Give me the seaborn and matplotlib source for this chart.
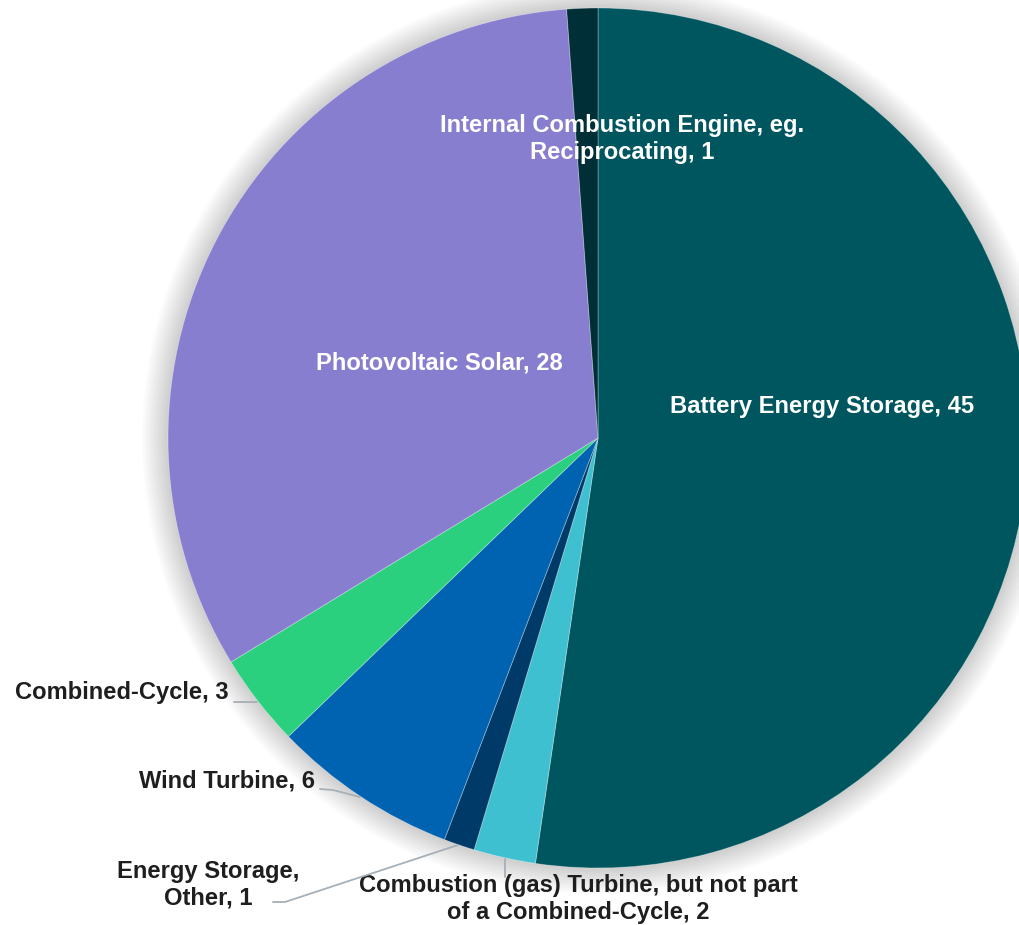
import matplotlib
matplotlib.use("Agg")
import matplotlib.pyplot as plt
import seaborn as sns
from matplotlib.patches import Circle

# Data
categories = [
    "Battery Energy Storage",
    "Combustion (gas) Turbine, but not part\nof a Combined-Cycle",
    "Energy Storage,\nOther",
    "Wind Turbine",
    "Combined-Cycle",
    "Photovoltaic Solar",
    "Internal Combustion Engine, eg.\nReciprocating",
]
counts = [45, 2, 1, 6, 3, 28, 1]
colors = ["#00565F", "#3EC0D0", "#003A68", "#0063B1", "#2BD07F", "#877ED0", "#002F38"]

sns.set_theme(style="white")
plt.rcParams["font.family"] = ["Liberation Sans", "DejaVu Sans"]

W, H = 1019, 925
CX, CY, R = 598, 438, 430


def px(x, y):
    # pixel position -> data coords (pie radius = 1)
    return (x - CX) / R, (CY - y) / R


fig = plt.figure(figsize=(W / 100, H / 100), dpi=100)
ax = fig.add_axes([0, 0, 1, 1])

# soft shadow around the pie
for i in range(12):
    ax.add_patch(Circle((0, 0), 1 + 0.005 * (i + 1), color="#000000",
                        alpha=0.014, lw=0, zorder=0))

wedges, _ = ax.pie(counts, colors=colors, startangle=90, counterclock=False,
                   radius=1, center=(0, 0), frame=True,
                   wedgeprops=dict(linewidth=0.6, edgecolor=(1, 1, 1, 0.35)))
ax.set_xlim(-CX / R, (W - CX) / R)
ax.set_ylim(-(H - CY) / R, CY / R)
ax.set_aspect("equal")
ax.axis("off")

fs = 17.1
ls = 1.17
dark = "#1E1E1E"
line_c = "#A7AFB7"

# inside labels
ax.text(*px(822, 407), f"{categories[0]}, {counts[0]}", color="white",
        fontsize=fs, fontweight="bold", ha="center", va="center")
ax.text(*px(439, 363), f"{categories[5]}, {counts[5]}", color="white",
        fontsize=fs, fontweight="bold", ha="center", va="center")
ax.text(*px(622, 139), f"{categories[6]}, {counts[6]}", color="white",
        fontsize=fs, fontweight="bold", ha="center", va="center",
        linespacing=ls)

# outside labels
ax.text(*px(229, 693), f"{categories[4]}, {counts[4]}", color=dark,
        fontsize=fs, fontweight="bold", ha="right", va="center")
ax.text(*px(315, 781), f"{categories[3]}, {counts[3]}", color=dark,
        fontsize=fs, fontweight="bold", ha="right", va="center")
ax.text(*px(208, 885), f"{categories[2]}, {counts[2]}", color=dark,
        fontsize=fs, fontweight="bold", ha="center", va="center",
        linespacing=ls)
ax.text(*px(578, 899), f"{categories[1]}, {counts[1]}", color=dark,
        fontsize=fs, fontweight="bold", ha="center", va="center",
        linespacing=ls)

# leader lines
leaders = [
    [(234, 702), (257, 702)],
    [(320, 789), (333, 790), (360, 797)],
    [(273, 902), (285, 902), (458, 845)],
    [(505, 877), (505, 859)],
]
for pts in leaders:
    xs, ys = zip(*[px(a, b) for a, b in pts])
    ax.plot(xs, ys, color=line_c, lw=1.3, zorder=3)

fig.savefig("out.png", dpi=100, facecolor="white")
